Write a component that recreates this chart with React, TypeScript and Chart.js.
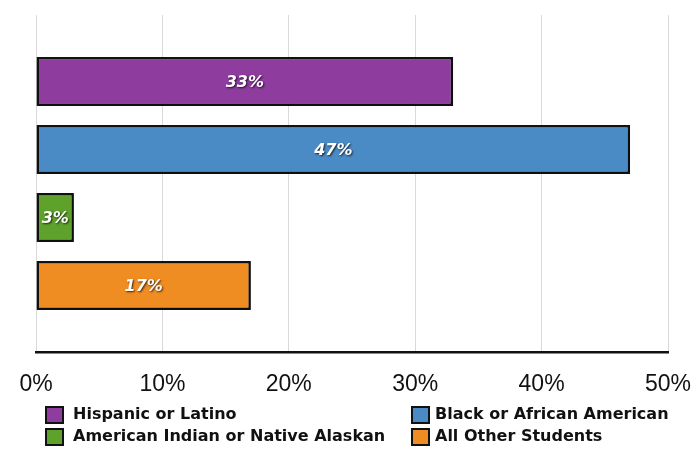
import React, { useEffect, useRef } from "react";
import { Chart, registerables } from "chart.js";

Chart.register(...registerables);

const categories = [""];
const seriesNames = [
  "Hispanic or Latino",
  "Black or African American",
  "American Indian or Native Alaskan",
  "All Other Students",
];
const seriesValues = [33, 47, 3, 17];
const seriesColors = ["#8E3C9E", "#4A8AC5", "#5EA22C", "#F08D22"];
const tickValues = [0, 10, 20, 30, 40, 50];

const barShadowPlugin = {
  id: "barShadow",
  beforeDatasetDraw(chart: any) {
    const ctx = chart.ctx;
    ctx.save();
    ctx.shadowColor = "rgba(0,0,0,0.3)";
    ctx.shadowOffsetX = 2;
    ctx.shadowOffsetY = 2;
    ctx.shadowBlur = 3;
  },
  afterDatasetDraw(chart: any) {
    chart.ctx.restore();
  },
};

const barLabelPlugin = {
  id: "barLabels",
  afterDatasetsDraw(chart: any) {
    const ctx = chart.ctx;
    ctx.save();
    ctx.font = "italic bold 16px 'DejaVu Sans'";
    ctx.textAlign = "center";
    ctx.textBaseline = "middle";
    ctx.fillStyle = "#ffffff";
    ctx.shadowColor = "rgba(0,0,0,0.75)";
    ctx.shadowOffsetX = 1;
    ctx.shadowOffsetY = 1.5;
    ctx.shadowBlur = 2;
    chart.data.datasets.forEach((ds: any, i: number) => {
      const meta = chart.getDatasetMeta(i);
      meta.data.forEach((el: any, j: number) => {
        const cx = (el.x + el.base) / 2;
        ctx.fillText(`${ds.data[j]}%`, cx, el.y + 1);
      });
    });
    ctx.restore();
  },
};

const legendPlugin = {
  id: "customLegend",
  afterDraw(chart: any) {
    const ctx = chart.ctx;
    const colBox = [46, 412];
    const colText = [73, 435];
    const rowY = [415, 437];
    ctx.save();
    ctx.font = "bold 16px 'DejaVu Sans'";
    ctx.textBaseline = "middle";
    ctx.textAlign = "left";
    chart.data.datasets.forEach((ds: any, i: number) => {
      const col = i % 2;
      const row = Math.floor(i / 2);
      const y = rowY[row];
      ctx.fillStyle = ds.backgroundColor;
      ctx.fillRect(colBox[col], y - 8, 17, 16);
      ctx.lineWidth = 2;
      ctx.strokeStyle = "#111";
      ctx.strokeRect(colBox[col], y - 8, 17, 16);
      ctx.fillStyle = "#111";
      ctx.fillText(ds.label, colText[col], y);
    });
    ctx.restore();
  },
};

export default function App() {
  const ref = useRef<HTMLCanvasElement>(null);
  useEffect(() => {
    document.body.style.margin = "0";
    const chart = new Chart(ref.current!, {
      type: "bar",
      data: {
        labels: categories,
        datasets: seriesNames.map((name, i) => ({
          label: name,
          data: [seriesValues[i]],
          backgroundColor: seriesColors[i],
          borderColor: "#111111",
          borderWidth: 2.5,
          borderSkipped: false,
          categoryPercentage: 0.807,
          barPercentage: 0.72,
        })),
      },
      options: {
        indexAxis: "y",
        animation: false,
        responsive: false,
        devicePixelRatio: 1,
        layout: { padding: { left: 36, right: 29, top: 15, bottom: 0 } },
        plugins: {
          legend: { display: false },
          tooltip: { enabled: false },
        },
        scales: {
          y: { display: false },
          x: {
            min: 0,
            max: 50,
            afterBuildTicks: (scale: any) => {
              scale.ticks = tickValues.map((v) => ({ value: v }));
            },
            afterFit: (scale: any) => {
              scale.height = 99;
              scale.paddingLeft = 0;
              scale.paddingRight = 0;
            },
            grid: { color: "#d9d9d9", lineWidth: 1, drawTicks: false },
            border: { color: "#111111", width: 2.5 },
            ticks: {
              padding: 19,
              color: "#111",
              font: { family: "'Liberation Sans'", size: 23 },
              callback: (v: any) => `${v}%`,
            },
          },
        },
      },
      plugins: [barShadowPlugin, barLabelPlugin, legendPlugin],
    } as any);
    return () => chart.destroy();
  }, []);
  return <canvas ref={ref} width={697} height={451} style={{ display: "block" }} />;
}
